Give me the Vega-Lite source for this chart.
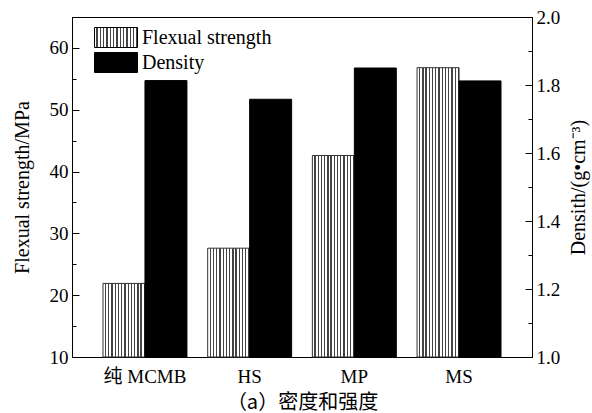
{
  "$schema": "https://vega.github.io/schema/vega-lite/v6.json",
  "width": 460,
  "height": 340,
  "autosize": "none",
  "padding": {"left": 72, "top": 17, "right": 60, "bottom": 56},
  "background": "white",
  "config": {
    "view": {"stroke": "#000", "strokeWidth": 1},
    "axis": {
      "labelFont": "Liberation Serif",
      "labelFontSize": 19,
      "labelColor": "#000",
      "titleFont": "Liberation Serif",
      "titleFontSize": 20,
      "titleFontWeight": "normal",
      "titleColor": "#000",
      "domainColor": "#000",
      "domainWidth": 1,
      "tickColor": "#000",
      "tickWidth": 1,
      "grid": false
    }
  },
  "data": {
    "values": [
      {"cat": "纯 MCMB", "series": "Flexual strength", "value": 21.9},
      {"cat": "HS", "series": "Flexual strength", "value": 27.6},
      {"cat": "MP", "series": "Flexual strength", "value": 42.6},
      {"cat": "MS", "series": "Flexual strength", "value": 56.8},
      {"cat": "纯 MCMB", "series": "Density", "value": 1.813},
      {"cat": "HS", "series": "Density", "value": 1.758},
      {"cat": "MP", "series": "Density", "value": 1.85},
      {"cat": "MS", "series": "Density", "value": 1.812}
    ]
  },
  "layer": [
    {
      "transform": [{"filter": "datum.series === 'Flexual strength'"}],
      "layer": [
        {
          "mark": {"type": "bar", "stroke": "#333", "strokeWidth": 1, "fillOpacity": 1},
          "encoding": {
            "x": {
              "field": "cat", "type": "nominal",
              "sort": ["纯 MCMB", "HS", "MP", "MS"],
              "scale": {"domain": ["纯 MCMB", "HS", "MP", "MS"], "paddingInner": 0.198, "paddingOuter": 0.296},
              "axis": {
                "title": "（a）密度和强度",
                "titleFont": "Noto Sans CJK SC",
                "titleFontSize": 20,
                "titlePadding": 6,
                "labelFont": "'Liberation Serif', 'Noto Sans CJK SC'",
                "labelFontSize": 19,
                "labelAngle": 0,
                "labelPadding": 10,
                "ticks": false
              }
            },
            "xOffset": {
              "field": "series", "type": "nominal",
              "scale": {"domain": ["Flexual strength", "Density"], "paddingInner": 0, "paddingOuter": 0}
            },
            "y": {
              "field": "value", "type": "quantitative",
              "scale": {"domain": [10, 65], "zero": false, "nice": false},
              "axis": {
                "orient": "left",
                "values": [10, 20, 30, 40, 50, 60],
                "tickSize": -7,
                "labelPadding": 11,
                "title": "Flexual strength/MPa",
                "titlePadding": 17
              }
            },
            "y2": {"datum": 10},
            "fill": {
              "field": "series", "type": "nominal",
              "scale": {
                "domain": ["Flexual strength", "Density"],
                "range": [
                  {"expr": "{gradient:'linear',x1:0,y1:0,x2:1,y2:0,stops:[{offset:0,color:'#fff'},{offset:0.04615,color:'#fff'},{offset:0.04615,color:'#444'},{offset:0.07692,color:'#444'},{offset:0.07692,color:'#fff'},{offset:0.12308,color:'#fff'},{offset:0.12308,color:'#444'},{offset:0.15385,color:'#444'},{offset:0.15385,color:'#fff'},{offset:0.2,color:'#fff'},{offset:0.2,color:'#444'},{offset:0.23077,color:'#444'},{offset:0.23077,color:'#fff'},{offset:0.27692,color:'#fff'},{offset:0.27692,color:'#444'},{offset:0.30769,color:'#444'},{offset:0.30769,color:'#fff'},{offset:0.35385,color:'#fff'},{offset:0.35385,color:'#444'},{offset:0.38462,color:'#444'},{offset:0.38462,color:'#fff'},{offset:0.43077,color:'#fff'},{offset:0.43077,color:'#444'},{offset:0.46154,color:'#444'},{offset:0.46154,color:'#fff'},{offset:0.50769,color:'#fff'},{offset:0.50769,color:'#444'},{offset:0.53846,color:'#444'},{offset:0.53846,color:'#fff'},{offset:0.58462,color:'#fff'},{offset:0.58462,color:'#444'},{offset:0.61538,color:'#444'},{offset:0.61538,color:'#fff'},{offset:0.66154,color:'#fff'},{offset:0.66154,color:'#444'},{offset:0.69231,color:'#444'},{offset:0.69231,color:'#fff'},{offset:0.73846,color:'#fff'},{offset:0.73846,color:'#444'},{offset:0.76923,color:'#444'},{offset:0.76923,color:'#fff'},{offset:0.81538,color:'#fff'},{offset:0.81538,color:'#444'},{offset:0.84615,color:'#444'},{offset:0.84615,color:'#fff'},{offset:0.89231,color:'#fff'},{offset:0.89231,color:'#444'},{offset:0.92308,color:'#444'},{offset:0.92308,color:'#fff'},{offset:0.96923,color:'#fff'},{offset:0.96923,color:'#444'},{offset:1,color:'#444'}]}"},
                  "#000000"
                ]
              },
              "legend": {
                "orient": "none",
                "legendX": 33.5,
                "legendY": 10,
                "title": null,
                "symbolType": "M-2.15,-1H2.15V1H-2.15Z",
                "symbolSize": 400,
                "symbolStrokeColor": "#333",
                "symbolStrokeWidth": 1,
                "symbolOpacity": 1,
                "labelFont": "Liberation Serif",
                "labelFontSize": 20,
                "labelColor": "#000",
                "labelOffset": 15.5,
                "rowPadding": 0
              }
            }
          }
        },
        {
          "mark": {"type": "rule", "opacity": 0},
          "encoding": {
            "y": {
              "field": "value", "type": "quantitative",
              "axis": {
                "orient": "left",
                "values": [15, 25, 35, 45, 55, 65],
                "tickSize": -4,
                "labels": false,
                "domain": false,
                "title": null
              }
            }
          }
        }
      ],
      "resolve": {"axis": {"y": "independent"}}
    },
    {
      "transform": [{"filter": "datum.series === 'Density'"}],
      "layer": [
        {
          "mark": {"type": "bar", "stroke": "#000", "fillOpacity": 1, "strokeWidth": 1},
          "encoding": {
            "x": {
              "field": "cat", "type": "nominal",
              "sort": ["纯 MCMB", "HS", "MP", "MS"],
              "scale": {"domain": ["纯 MCMB", "HS", "MP", "MS"], "paddingInner": 0.198, "paddingOuter": 0.296},
              "axis": {
                "title": "（a）密度和强度",
                "titleFont": "Noto Sans CJK SC",
                "titleFontSize": 20,
                "titlePadding": 6,
                "labelFont": "'Liberation Serif', 'Noto Sans CJK SC'",
                "labelFontSize": 19,
                "labelAngle": 0,
                "labelPadding": 10,
                "ticks": false
              }
            },
            "xOffset": {
              "field": "series", "type": "nominal",
              "scale": {"domain": ["Flexual strength", "Density"], "paddingInner": 0, "paddingOuter": 0}
            },
            "y": {
              "field": "value", "type": "quantitative",
              "scale": {"domain": [1.0, 2.0], "zero": false, "nice": false},
              "axis": {
                "orient": "right",
                "values": [1.0, 1.2, 1.4, 1.6, 1.8, 2.0],
                "format": ".1f",
                "tickSize": -7,
                "labelPadding": 11,
                "title": "Densith/(g•cm⁻³)",
                "titleFontSize": 20,
                "titleAngle": 270,
                "titlePadding": 29
              }
            },
            "y2": {"datum": 1},
            "fill": {"field": "series", "type": "nominal"}
          }
        },
        {
          "mark": {"type": "rule", "opacity": 0},
          "encoding": {
            "y": {
              "field": "value", "type": "quantitative",
              "axis": {
                "orient": "right",
                "values": [1.1, 1.3, 1.5, 1.7, 1.9],
                "tickSize": -4,
                "labels": false,
                "domain": false,
                "title": null
              }
            }
          }
        }
      ],
      "resolve": {"axis": {"y": "independent"}}
    }
  ],
  "resolve": {"scale": {"y": "independent"}}
}
